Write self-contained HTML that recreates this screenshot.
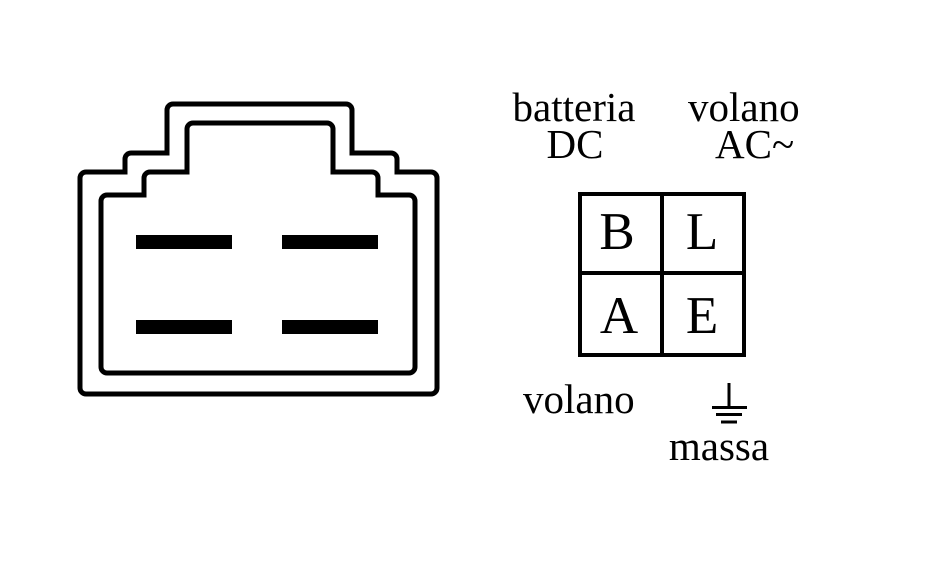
<!DOCTYPE html>
<html>
<head>
<meta charset="utf-8">
<style>
html,body{margin:0;padding:0;background:#fff;}
svg{display:block;}
text{font-family:"Liberation Serif","DejaVu Serif",serif;fill:#000;}
</style>
</head>
<body>
<svg width="930" height="561" viewBox="0 0 930 561" xmlns="http://www.w3.org/2000/svg">
<rect width="930" height="561" fill="#fff"/>
<!-- outer connector outline -->
<path d="M80,388 V178 A6,6 0 0 1 86,172 H125 V159 A6,6 0 0 1 131,153 H167 V110 A6,6 0 0 1 173,104 H346 A6,6 0 0 1 352,110 V153 H391 A6,6 0 0 1 397,159 V172 H431 A6,6 0 0 1 437,178 V388 A6,6 0 0 1 431,394 H86 A6,6 0 0 1 80,388 Z" fill="none" stroke="#000" stroke-width="5" stroke-linejoin="miter"/>
<!-- inner connector outline -->
<path d="M101,367 V201 A6,6 0 0 1 107,195 H144 V178 A6,6 0 0 1 150,172 H187 V129 A6,6 0 0 1 193,123 H327 A6,6 0 0 1 333,129 V172 H372 A6,6 0 0 1 378,178 V195 H409 A6,6 0 0 1 415,201 V367 A6,6 0 0 1 409,373 H107 A6,6 0 0 1 101,367 Z" fill="none" stroke="#000" stroke-width="5" stroke-linejoin="miter"/>
<!-- pins -->
<rect x="136" y="235" width="96" height="14" fill="#000"/>
<rect x="282" y="235" width="96" height="14" fill="#000"/>
<rect x="136" y="320" width="96" height="14" fill="#000"/>
<rect x="282" y="320" width="96" height="14" fill="#000"/>

<!-- grid -->
<rect x="580" y="194" width="164" height="161" fill="none" stroke="#000" stroke-width="4"/>
<line x1="662" y1="194" x2="662" y2="355" stroke="#000" stroke-width="4"/>
<line x1="580" y1="273" x2="744" y2="273" stroke="#000" stroke-width="4"/>
<text x="617" y="249" font-size="53" text-anchor="middle">B</text>
<text x="702" y="249" font-size="53" text-anchor="middle">L</text>
<text x="619" y="333" font-size="53" text-anchor="middle">A</text>
<text x="702" y="333" font-size="53" text-anchor="middle">E</text>

<!-- labels -->
<text x="574" y="121" font-size="41" text-anchor="middle">batteria</text>
<text x="575" y="158" font-size="41" text-anchor="middle">DC</text>
<text x="688" y="121" font-size="41">volano</text>
<text x="715" y="158" font-size="41">AC~</text>
<text x="523" y="413" font-size="41">volano</text>
<text x="719" y="460" font-size="41" text-anchor="middle">massa</text>

<!-- ground symbol -->
<line x1="729" y1="383" x2="729" y2="408" stroke="#000" stroke-width="3"/>
<line x1="712" y1="407.5" x2="747" y2="407.5" stroke="#000" stroke-width="3"/>
<line x1="716" y1="414.5" x2="742" y2="414.5" stroke="#000" stroke-width="3"/>
<line x1="721" y1="422" x2="737" y2="422" stroke="#000" stroke-width="3"/>
</svg>
</body>
</html>
